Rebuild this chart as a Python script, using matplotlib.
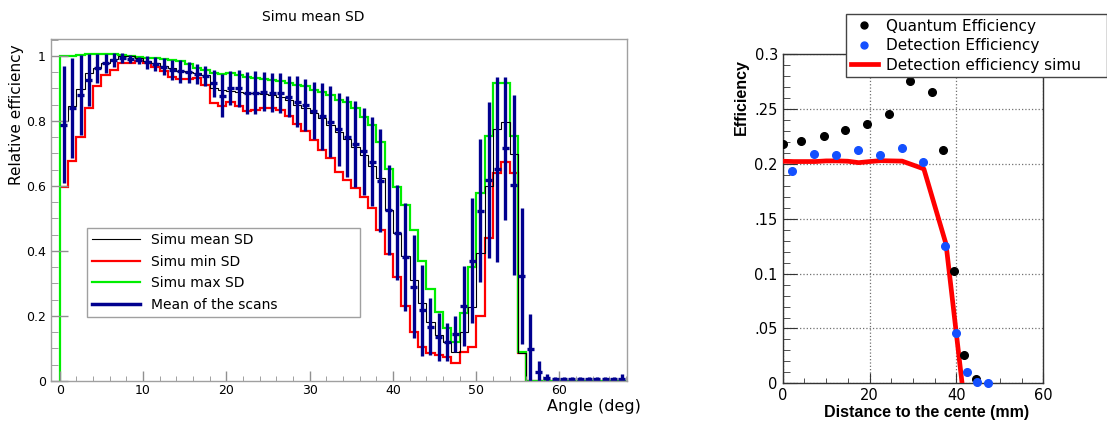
import numpy as np
import matplotlib
matplotlib.use("Agg")
import matplotlib.pyplot as plt
from matplotlib.ticker import MultipleLocator
from matplotlib.lines import Line2D

# ---- left panel: angular scan, 1 deg bins from 0 to 68 ----
angle_edges = np.arange(0, 69)

simu_max = [1.0, 1.0, 1.003, 1.005, 1.005, 1.005, 1.005, 1.003, 1.001, 0.998, 0.995, 0.993, 0.99, 0.988, 0.985, 0.974, 0.962, 0.957,
            0.947, 0.945, 0.947, 0.942, 0.936, 0.931, 0.928, 0.926, 0.924, 0.918, 0.911, 0.906, 0.895, 0.89, 0.88, 0.865, 0.859, 0.839, 0.813,
            0.788, 0.736, 0.651, 0.598, 0.542, 0.463, 0.37, 0.282, 0.213, 0.162, 0.121, 0.208, 0.352, 0.579, 0.754, 0.916, 0.916, 0.754, 0.088,
            0, 0, 0, 0, 0, 0, 0, 0, 0, 0, 0, 0]
simu_mean = [0.80, 0.846, 0.897, 0.947, 0.964, 0.979, 0.99, 1.0, 1.0, 0.993, 0.985, 0.977, 0.969, 0.962, 0.955, 0.949, 0.947, 0.942,
             0.90, 0.895, 0.893, 0.89, 0.887, 0.885, 0.883, 0.88, 0.875, 0.865, 0.849, 0.839, 0.824, 0.808, 0.788, 0.767, 0.744, 0.721, 0.695,
             0.662, 0.624, 0.526, 0.456, 0.383, 0.311, 0.239, 0.183, 0.142, 0.121, 0.088, 0.15, 0.229, 0.393, 0.60, 0.774, 0.798, 0.697, 0.085,
             0, 0, 0, 0, 0, 0, 0, 0, 0, 0, 0, 0]
simu_min = [0.598, 0.677, 0.749, 0.841, 0.908, 0.942, 0.957, 0.977, 0.977, 0.985, 0.977, 0.965, 0.952, 0.936, 0.928, 0.928, 0.933, 0.911,
            0.854, 0.845, 0.857, 0.846, 0.829, 0.834, 0.839, 0.839, 0.834, 0.815, 0.792, 0.77, 0.742, 0.711, 0.685, 0.644, 0.618, 0.593, 0.567,
            0.533, 0.463, 0.39, 0.319, 0.231, 0.152, 0.106, 0.085, 0.08, 0.073, 0.056, 0.09, 0.106, 0.2, 0.439, 0.639, 0.675, 0.639, 0.085,
            0, 0, 0, 0, 0, 0, 0, 0, 0, 0, 0, 0]
scan_mean = [0.788, 0.839, 0.88, 0.926, 0.962, 0.977, 0.988, 0.993, 0.99, 0.986, 0.981, 0.974, 0.967, 0.957, 0.952, 0.949, 0.944, 0.938,
             0.916, 0.877, 0.90, 0.90, 0.885, 0.887, 0.89, 0.887, 0.885, 0.875, 0.859, 0.849, 0.832, 0.815, 0.798, 0.774, 0.752, 0.729, 0.706,
             0.675, 0.616, 0.526, 0.456, 0.381, 0.29, 0.218, 0.167, 0.136, 0.121, 0.145, 0.231, 0.37, 0.524, 0.618, 0.651, 0.716, 0.603, 0.323,
             0.097, 0.027, 0.01, 0.005, 0.005, 0.005, 0.005, 0.005, 0.005, 0.005, 0.005, 0.005]
scan_err = [0.18, 0.153, 0.123, 0.08, 0.045, 0.03, 0.022, 0.015, 0.013, 0.012, 0.02, 0.022, 0.027, 0.03, 0.034, 0.032, 0.031, 0.031,
            0.042, 0.066, 0.052, 0.056, 0.064, 0.066, 0.06, 0.06, 0.062, 0.064, 0.078, 0.079, 0.088, 0.103, 0.11, 0.113, 0.126, 0.133, 0.133,
            0.138, 0.159, 0.138, 0.146, 0.166, 0.159, 0.14, 0.087, 0.073, 0.058, 0.056, 0.123, 0.193, 0.22, 0.241, 0.284, 0.22, 0.277, 0.21,
            0.108, 0.033, 0.01, 0.008, 0.008, 0.008, 0.008, 0.008, 0.008, 0.008, 0.008, 0.015]
left_yticks = [0, 0.2, 0.4, 0.6, 0.8, 1.0]
left_ylabels = ["0", "0.2", "0.4", "0.6", "0.8", "1"]

# ---- right panel: efficiency vs distance ----
qe_x = [0, 4.2, 9.4, 14.3, 19.3, 24.4, 29.3, 34.3, 36.8, 39.4, 41.8, 44.4]
qe_y = [0.218, 0.2207, 0.2256, 0.2309, 0.2361, 0.246, 0.2756, 0.266, 0.2123, 0.102, 0.026, 0.004]
de_x = [2.1, 7.3, 12.3, 17.3, 22.4, 27.4, 32.4, 37.4, 39.9, 42.4, 44.8, 47.3]
de_y = [0.1935, 0.2093, 0.208, 0.2127, 0.208, 0.2148, 0.2019, 0.1256, 0.0456, 0.010, 0.0015, 0.0003]
simu_x = [0, 2.5, 5, 7.5, 10, 12.5, 15, 17.5, 20, 22.5, 25, 27.5, 32.5, 37.6, 41.3]
simu_y = [0.2025, 0.2022, 0.2022, 0.2022, 0.2028, 0.2028, 0.2025, 0.2012, 0.2022, 0.2030, 0.2028, 0.2026, 0.1955, 0.127, 0.0]
right_yticks = [0, 0.05, 0.1, 0.15, 0.2, 0.25, 0.3]
right_ylabels = ["0", ".05", "0.1", ".15", "0.2", ".25", "0.3"]

W, H = 1107, 426
fig = plt.figure(figsize=(W / 100, H / 100), dpi=100)
fig.patch.set_facecolor("white")

def ax_at(x0, y0, x1, y1):
    return fig.add_axes([x0 / W, 1 - y1 / H, (x1 - x0) / W, (y1 - y0) / H])

NAVY = "#00008f"

# left
ax = ax_at(50.7, 39.3, 626.7, 381)
centers = (angle_edges[:-1] + angle_edges[1:]) / 2
ax.stairs(simu_min, angle_edges, baseline=None, color="#ff0000", lw=1.6)
ax.stairs(simu_max, angle_edges, baseline=0, color="#00ee00", lw=1.6)
ax.stairs(simu_mean, angle_edges, baseline=None, color="black", lw=0.8)
ax.errorbar(centers, scan_mean, yerr=scan_err, xerr=0.42, fmt="none", ecolor=NAVY, elinewidth=2.4, capsize=0)
ax.set_xlim(-1.08, 68.07)
ax.set_ylim(0, 1.051)
ax.xaxis.set_major_locator(MultipleLocator(10))
ax.xaxis.set_minor_locator(MultipleLocator(2))
ax.yaxis.set_minor_locator(MultipleLocator(0.05))
ax.set_yticks(left_yticks)
ax.set_yticklabels(left_ylabels)
ax.tick_params(axis="both", which="both", direction="in", color="#909090", labelsize=9, top=False, right=False)
ax.tick_params(axis="x", which="major", pad=2)
ax.tick_params(axis="y", which="major", length=12, width=1)
ax.tick_params(axis="y", which="minor", length=5)
ax.tick_params(axis="x", which="major", length=7, width=1)
ax.tick_params(axis="x", which="minor", length=3.6)
for s in ax.spines.values():
    s.set_color("#a0a0a0")
    s.set_linewidth(1)

handles = [Line2D([], [], color="black", lw=0.8), Line2D([], [], color="#ff0000", lw=1.6),
           Line2D([], [], color="#00ee00", lw=1.6), Line2D([], [], color=NAVY, lw=2.5)]
leg = fig.legend(handles, ["Simu mean SD", "Simu min SD", "Simu max SD", "Mean of the scans"],
                 loc="upper left", bbox_to_anchor=(86.7 / W, 0, (360 - 86.7) / W, 1 - 228 / H), mode="expand",
                 fontsize=10, frameon=True, fancybox=False, edgecolor="#a0a0a0", framealpha=1,
                 handlelength=3.5, handletextpad=0.8, labelspacing=0.55, borderpad=0.35, borderaxespad=0)
leg.get_frame().set_linewidth(1)

fig.text(313 / W, 1 - 17 / H, "Simu mean SD", ha="center", va="center", fontsize=10)
fig.text(641 / W, 1 - 407 / H, "Angle (deg)", ha="right", va="center", fontsize=11.5)
fig.text(16.5 / W, 1 - 115 / H, "Relative efficiency", ha="center", va="center", rotation=90, fontsize=11)

# right
ar = ax_at(782.7, 54.3, 1043.3, 383.3)
ar.plot(simu_x, simu_y, color="#ff0000", lw=3.4, solid_joinstyle="round", zorder=3)
ar.plot(qe_x, qe_y, "o", color="black", ms=5.5, zorder=4)
ar.plot(de_x, de_y, "o", color="#1450ff", ms=5.5, zorder=4, clip_on=False)
ar.set_xlim(0, 60)
ar.set_ylim(0, 0.3)
ar.xaxis.set_major_locator(MultipleLocator(20))
ar.xaxis.set_minor_locator(MultipleLocator(5))
ar.yaxis.set_minor_locator(MultipleLocator(0.01))
ar.set_yticks(right_yticks)
ar.set_yticklabels(right_ylabels)
ar.grid(True, which="major", ls=":", color="#707070", lw=0.9)
ar.tick_params(axis="both", which="both", direction="in", labelsize=10.5, top=False, right=False, color="#333333")
ar.tick_params(axis="y", which="major", length=10)
ar.tick_params(axis="y", which="minor", length=5)
ar.tick_params(axis="x", which="major", length=7)
ar.tick_params(axis="x", which="minor", length=3.6)
for s in ar.spines.values():
    s.set_color("#333333")
    s.set_linewidth(1)

rh = [Line2D([], [], marker="o", ls="none", color="black", ms=5),
      Line2D([], [], marker="o", ls="none", color="#1450ff", ms=5),
      Line2D([], [], color="#ff0000", lw=3.4)]
rleg = fig.legend(rh, ["Quantum Efficiency", "Detection Efficiency", "Detection efficiency simu"],
                  loc="upper left", bbox_to_anchor=(846 / W, 0, (1107 - 846) / W, 1 - 14 / H), mode="expand",
                  fontsize=11, frameon=True, fancybox=False, edgecolor="#444444", framealpha=1,
                  handlelength=1.8, handletextpad=0.5, labelspacing=0.3, borderpad=0.3, borderaxespad=0)
rleg.get_frame().set_linewidth(1)

fig.text(741 / W, 1 - 97 / H, "Efficiency", ha="center", va="center", rotation=90,
         fontsize=11.5, fontweight="bold", family="Liberation Sans")
fig.text(927 / W, 1 - 412 / H, "Distance to the cente (mm)", ha="center", va="center",
         fontsize=11.5, fontweight="bold", family="Liberation Sans")

fig.savefig("out.png", dpi=100)
